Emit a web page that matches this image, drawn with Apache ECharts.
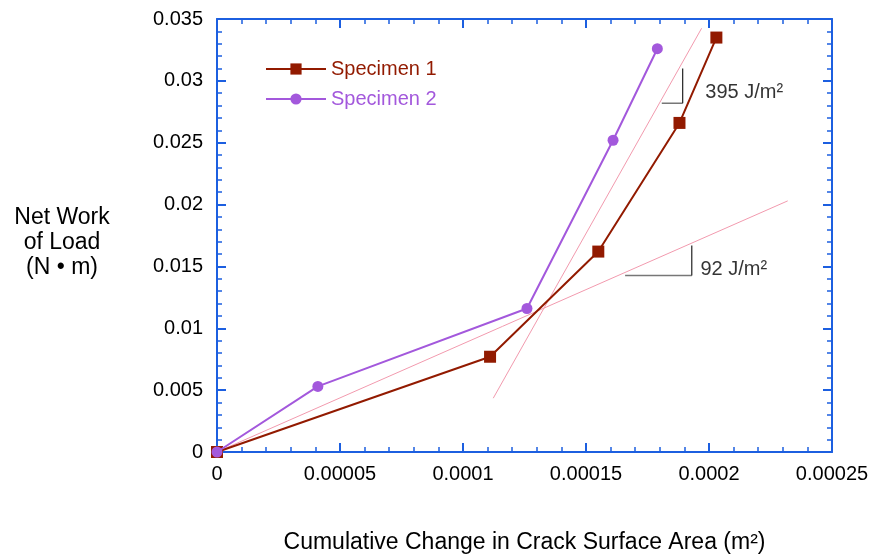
<!DOCTYPE html>
<html>
<head>
<meta charset="utf-8">
<script src="https://cdn.jsdelivr.net/npm/echarts@6/dist/echarts.min.js"></script>
<style>
  html, body { margin: 0; padding: 0; background: #fff; }
  #main { width: 875px; height: 559px; }
</style>
</head>
<body>
<div id="main"></div>
<script>
// data
var s1X = [0, 0.000111, 0.000155, 0.000188, 0.000203];
var s1Y = [0, 0.0077, 0.0162, 0.0266, 0.0335];
var s2X = [0, 0.000041, 0.000126, 0.000161, 0.000179];
var s2Y = [0, 0.0053, 0.0116, 0.0252, 0.0326];

// fitted slope lines
var fit92X = [0, 0.000232];
var fit92Y = [0, 0.0203];
var fit395X = [0.0001123, 0.000197];
var fit395Y = [0.00435, 0.03425];

// slope triangles: [x start of horizontal, corner x], [corner y, top y]
var tri395X = [0.0001808, 0.0001893];
var tri395Y = [0.0282, 0.0310];
var tri92X = [0.0001659, 0.0001930];
var tri92Y = [0.01426, 0.01669];

var xTicks = [0, 0.00005, 0.0001, 0.00015, 0.0002, 0.00025];
var yTicks = [0, 0.005, 0.01, 0.015, 0.02, 0.025, 0.03, 0.035];

function zip(a, b) {
  return a.map(function (v, i) { return [v, b[i]]; });
}

var FONT = "'Liberation Sans', Arial, Helvetica, sans-serif";
var BLUE = '#1c5fe0';
var RED = '#921a00';
var PURPLE = '#a358dc';
var PINK = '#f29aae';

function axisBase(pos, show) {
  return {
    type: 'value',
    position: pos,
    axisLine: { show: true, onZero: false, lineStyle: { color: BLUE, width: 2 } },
    axisTick: { show: true, inside: true, length: 9, lineStyle: { color: BLUE, width: 2 } },
    minorTick: { show: true, splitNumber: 5, length: 5, lineStyle: { color: BLUE, width: 1.5 } },
    splitLine: { show: false },
    axisLabel: { show: show, color: '#000', fontSize: 20, fontFamily: FONT, margin: 12 }
  };
}

var xa0 = axisBase('bottom', true);
xa0.min = xTicks[0]; xa0.max = xTicks[xTicks.length - 1]; xa0.interval = 0.00005;
xa0.axisLabel.formatter = function (v) { return String(+v.toFixed(5)); };
xa0.name = 'Cumulative Change in Crack Surface Area (m²)';
xa0.nameLocation = 'middle';
xa0.nameGap = 79;
xa0.nameTextStyle = { color: '#000', fontSize: 23, fontFamily: FONT };
var xa1 = axisBase('top', false);
xa1.min = xa0.min; xa1.max = xa0.max; xa1.interval = 0.00005;

var ya0 = axisBase('left', true);
ya0.min = yTicks[0]; ya0.max = yTicks[yTicks.length - 1]; ya0.interval = 0.005;
ya0.axisLabel.formatter = function (v) { return String(+v.toFixed(3)); };
ya0.axisLabel.margin = 14;
var ya1 = axisBase('right', false);
ya1.min = ya0.min; ya1.max = ya0.max; ya1.interval = 0.005;

function thin(name, xs, ys, color, w) {
  return {
    name: name, type: 'line', data: zip(xs, ys), symbol: 'none',
    lineStyle: { color: color, width: w }, z: 1, silent: true
  };
}

var myChart = echarts.init(document.getElementById('main'));
var option = {
  animation: false,
  backgroundColor: '#fff',
  textStyle: { fontFamily: FONT },
  grid: { left: 217, right: 43, top: 19, bottom: 107, containLabel: false },
  xAxis: [xa0, xa1],
  yAxis: [ya0, ya1],
  legend: {
    orient: 'vertical',
    left: 260,
    top: 54,
    itemWidth: 60,
    itemHeight: 14,
    itemGap: 10,
    textStyle: { fontSize: 20, fontFamily: FONT },
    data: [
      { name: 'Specimen 1', textStyle: { color: RED } },
      { name: 'Specimen 2', textStyle: { color: PURPLE } }
    ]
  },
  graphic: [{
    type: 'text',
    x: 62, y: 243,
    style: {
      text: 'Net Work\nof Load\n(N • m)',
      align: 'center', verticalAlign: 'middle',
      fontSize: 23, fontFamily: FONT, lineHeight: 25, fill: '#000'
    }
  }],
  series: [
    thin('fit92', fit92X, fit92Y, PINK, 1),
    thin('fit395', fit395X, fit395Y, PINK, 1),
    thin('tri395h', tri395X, [tri395Y[0], tri395Y[0]], '#777', 1.5),
    thin('tri395v', [tri395X[1], tri395X[1]], tri395Y, '#222', 1.2),
    thin('tri92h', tri92X, [tri92Y[0], tri92Y[0]], '#777', 1.5),
    thin('tri92v', [tri92X[1], tri92X[1]], tri92Y, '#222', 1.2),
    {
      name: 'labels', type: 'scatter', symbolSize: 0, silent: true,
      data: [
        { value: [0.0001985, 0.0291], label: { formatter: '395 J/m²' } },
        { value: [0.0001965, 0.01475], label: { formatter: '92 J/m²' } }
      ],
      label: { show: true, position: 'right', distance: 0, color: '#000', fontSize: 20, fontFamily: FONT }
    },
    {
      name: 'Specimen 1', type: 'line', data: zip(s1X, s1Y),
      symbol: 'rect', symbolSize: 12,
      itemStyle: { color: RED }, lineStyle: { color: RED, width: 2 }, z: 3
    },
    {
      name: 'Specimen 2', type: 'line', data: zip(s2X, s2Y),
      symbol: 'circle', symbolSize: 11,
      itemStyle: { color: PURPLE }, lineStyle: { color: PURPLE, width: 2 }, z: 4
    }
  ]
};
if (option && typeof option === "object") {
  myChart.setOption(option, true);
}
</script>
</body>
</html>
